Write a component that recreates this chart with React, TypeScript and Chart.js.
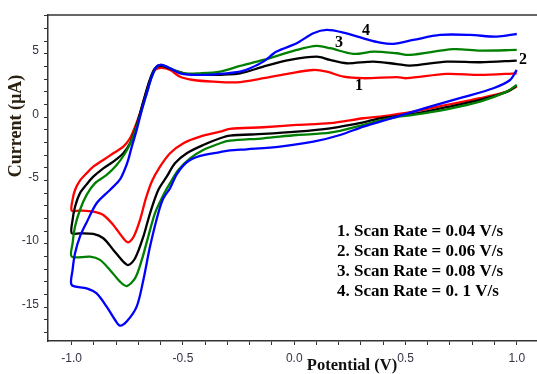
import React, { useEffect, useRef } from 'react';
import { Chart, registerables } from 'chart.js';

Chart.register(...registerables);

// ---- Data (Potential V, Current µA) ----
// Curve 1: 0.04 V/s (red)
const CURVE1_LOWER: [number, number][] = [
  [1.0, 2.42], [0.955, 2.02], [0.835, 1.5], [0.685, 0.97], [0.535, 0.44], [0.386, 0.05],
  [0.311, -0.08], [0.161, -0.47], [0.011, -0.61], [-0.139, -0.79], [-0.289, -0.92],
  [-0.333, -1.14], [-0.423, -1.53], [-0.498, -2.05], [-0.558, -2.84], [-0.603, -3.9],
  [-0.639, -5.03], [-0.666, -6.37], [-0.693, -8.1], [-0.72, -9.37], [-0.746, -9.87],
  [-0.768, -9.55], [-0.813, -8.5], [-0.858, -7.71], [-0.903, -7.45], [-0.963, -7.37], [-1.0, -7.37],
];
const CURVE1_UPPER: [number, number][] = [
  [-1.0, -7.37], [-0.996, -6.5], [-0.985, -5.74], [-0.963, -5.0], [-0.933, -4.42], [-0.903, -3.9],
  [-0.858, -3.37], [-0.813, -2.84], [-0.768, -2.32], [-0.738, -1.66], [-0.715, -0.74],
  [-0.693, 0.32], [-0.671, 1.63], [-0.648, 2.94], [-0.626, 3.73], [-0.596, 3.89], [-0.558, 3.73],
  [-0.513, 3.2], [-0.453, 2.94], [-0.364, 2.81], [-0.258, 2.76], [-0.139, 3.08], [-0.019, 3.47],
  [0.086, 3.73], [0.146, 3.6], [0.221, 3.2], [0.311, 3.08], [0.461, 3.16], [0.506, 3.08],
  [0.685, 3.42], [0.835, 3.34], [1.0, 3.47],
];
// Curve 2: 0.06 V/s (black)
const CURVE2_LOWER: [number, number][] = [
  [1.0, 2.5], [0.955, 2.0], [0.835, 1.37], [0.685, 0.79], [0.535, 0.26], [0.386, -0.08],
  [0.311, -0.4], [0.161, -0.87], [0.011, -1.14], [-0.139, -1.32], [-0.289, -1.45],
  [-0.333, -1.66], [-0.409, -2.19], [-0.483, -2.84], [-0.536, -3.63], [-0.573, -4.69],
  [-0.611, -5.74], [-0.648, -7.58], [-0.678, -9.42], [-0.715, -11.13], [-0.746, -11.66],
  [-0.768, -11.4], [-0.813, -10.47], [-0.858, -9.55], [-0.903, -9.21], [-0.963, -9.16], [-1.0, -9.16],
];
const CURVE2_UPPER: [number, number][] = [
  [-1.0, -9.16], [-0.996, -8.1], [-0.985, -7.06], [-0.963, -6.0], [-0.933, -5.3], [-0.903, -4.69],
  [-0.858, -4.03], [-0.813, -3.5], [-0.768, -2.84], [-0.738, -2.05], [-0.715, -1.0],
  [-0.693, 0.32], [-0.671, 1.7], [-0.648, 3.0], [-0.626, 3.87], [-0.596, 4.05], [-0.543, 3.73],
  [-0.483, 3.42], [-0.378, 3.34], [-0.243, 3.47], [-0.139, 4.0], [-0.019, 4.52], [0.101, 4.78],
  [0.161, 4.52], [0.236, 4.26], [0.356, 4.39], [0.461, 4.2], [0.52, 4.07], [0.685, 4.39],
  [0.835, 4.34], [1.0, 4.47],
];
// Curve 3: 0.08 V/s (green)
const CURVE3_LOWER: [number, number][] = [
  [1.0, 2.55], [0.955, 2.02], [0.835, 1.23], [0.685, 0.63], [0.535, 0.18], [0.461, 0.02],
  [0.386, -0.25], [0.311, -0.6], [0.161, -1.22], [0.011, -1.4], [-0.139, -1.66], [-0.289, -1.85],
  [-0.333, -2.05], [-0.409, -2.58], [-0.468, -3.24], [-0.521, -4.16], [-0.558, -5.2],
  [-0.592, -6.27], [-0.626, -7.58], [-0.656, -9.42], [-0.685, -11.26], [-0.715, -12.7],
  [-0.753, -13.32], [-0.783, -12.97], [-0.828, -12.05], [-0.873, -11.26], [-0.918, -11.0], [-1.0, -11.0],
];
const CURVE3_UPPER: [number, number][] = [
  [-1.0, -11.0], [-0.996, -9.95], [-0.985, -8.63], [-0.963, -7.32], [-0.933, -6.13], [-0.895, -5.2],
  [-0.843, -4.55], [-0.798, -3.76], [-0.76, -2.84], [-0.73, -1.79], [-0.708, -0.74], [-0.685, 0.58],
  [-0.663, 1.89], [-0.64, 3.2], [-0.618, 4.0], [-0.596, 4.13], [-0.558, 3.87], [-0.498, 3.47],
  [-0.423, 3.47], [-0.333, 3.6], [-0.243, 4.05], [-0.139, 4.52], [0.011, 5.31], [0.101, 5.63],
  [0.161, 5.45], [0.266, 5.0], [0.356, 5.18], [0.461, 5.05], [0.52, 4.92], [0.715, 5.37],
  [0.835, 5.26], [1.0, 5.31],
];
// Curve 4: 0.1 V/s (blue)
const CURVE4_LOWER: [number, number][] = [
  [1.0, 3.73], [0.97, 2.94], [0.895, 2.29], [0.76, 1.58], [0.61, 0.84], [0.461, 0.05],
  [0.386, -0.35], [0.311, -0.74], [0.206, -1.4], [0.086, -1.93], [-0.064, -2.32], [-0.213, -2.53],
  [-0.289, -2.62], [-0.333, -2.75], [-0.423, -3.05], [-0.483, -3.55], [-0.528, -4.5],
  [-0.558, -5.6], [-0.588, -6.4], [-0.611, -7.58], [-0.648, -10.21], [-0.678, -12.84],
  [-0.708, -14.95], [-0.753, -16.13], [-0.783, -16.45], [-0.805, -16.0], [-0.843, -14.95],
  [-0.888, -13.9], [-0.933, -13.5], [-1.0, -13.24],
];
const CURVE4_UPPER: [number, number][] = [
  [-1.0, -13.24], [-0.996, -12.05], [-0.985, -10.73], [-0.963, -9.42], [-0.933, -8.3],
  [-0.888, -6.79], [-0.828, -5.74], [-0.783, -4.9], [-0.76, -4.05], [-0.745, -3.3],
  [-0.73, -2.32], [-0.708, -1.0], [-0.685, 0.58], [-0.663, 1.89], [-0.64, 3.2], [-0.618, 4.0],
  [-0.596, 4.13], [-0.558, 3.87], [-0.513, 3.47], [-0.423, 3.34], [-0.333, 3.42], [-0.243, 3.6],
  [-0.198, 3.87], [-0.139, 4.39], [-0.079, 5.18], [0.011, 5.84], [0.086, 6.63], [0.146, 6.89],
  [0.221, 6.68], [0.311, 6.23], [0.386, 5.89], [0.445, 5.79], [0.535, 6.1], [0.655, 6.5],
  [0.79, 6.5], [0.91, 6.36], [1.0, 6.57],
];

const SERIES_NAMES = ['4', '3', '2', '1'];
const SERIES_COLORS = ['#0000ff', '#008000', '#000000', '#ff0000'];
const LEGEND_LINES = [
  '1. Scan Rate = 0.04 V/s',
  '2. Scan Rate = 0.06 V/s',
  '3. Scan Rate = 0.08 V/s',
  '4. Scan Rate = 0. 1 V/s',
];

const X_TICKS = [-1.0, -0.9, -0.8, -0.7, -0.6, -0.5, -0.4, -0.3, -0.2, -0.1, 0.0, 0.1, 0.2, 0.3, 0.4, 0.5, 0.6, 0.7, 0.8, 0.9, 1.0];
const X_MAJOR = [-1.0, -0.5, 0.0, 0.5, 1.0];
const X_MAJOR_LABELS = ['-1.0', '-0.5', '0.0', '0.5', '1.0'];
const Y_TICKS = [-17, -16, -15, -14, -13, -12, -11, -10, -9, -8, -7, -6, -5, -4, -3, -2, -1, 0, 1, 2, 3, 4, 5, 6, 7, 8];
const Y_MAJOR = [-15, -10, -5, 0, 5];
const Y_MAJOR_LABELS = ['-15', '-10', '-5', '0', '5'];

const X_MIN = -1.1065;
const X_MAX = 1.091;
const Y_MIN = -17.66;
const Y_MAX = 8.07;

const toPts = (lower: [number, number][], upper: [number, number][]) =>
  [...lower, ...upper.slice(1)].map(([x, y]) => ({ x, y }));

const CURVES = [
  toPts(CURVE4_LOWER, CURVE4_UPPER),
  toPts(CURVE3_LOWER, CURVE3_UPPER),
  toPts(CURVE2_LOWER, CURVE2_UPPER),
  toPts(CURVE1_LOWER, CURVE1_UPPER),
];

const labelFor = (v: number, majors: number[], labels: string[]) => {
  const i = majors.findIndex((m) => Math.abs(m - v) < 1e-6);
  return i >= 0 ? labels[i] : '';
};

const textPlugin = {
  id: 'cvText',
  afterDraw(chart: any) {
    const ctx = chart.ctx as CanvasRenderingContext2D;
    const a = chart.chartArea;
    ctx.save();
    // top border
    ctx.strokeStyle = '#333333';
    ctx.lineWidth = 1.5;
    ctx.beginPath();
    ctx.moveTo(a.left, a.top);
    ctx.lineTo(a.right, a.top);
    ctx.stroke();

    // y title
    ctx.save();
    ctx.translate(16, 126);
    ctx.rotate(-Math.PI / 2);
    ctx.font = 'bold 18px "Liberation Serif"';
    ctx.fillStyle = '#2a2010';
    ctx.textAlign = 'center';
    ctx.textBaseline = 'middle';
    ctx.fillText('Current (\u00b5A)', 0, 0);
    ctx.restore();

    // x title
    ctx.font = 'bold 16.5px "Liberation Serif"';
    ctx.fillStyle = '#111111';
    ctx.textAlign = 'center';
    ctx.textBaseline = 'middle';
    ctx.fillText('Potential (V)', 352, 366);

    // legend text
    ctx.font = 'bold 17px "Liberation Serif"';
    ctx.fillStyle = '#000000';
    ctx.textAlign = 'left';
    ctx.textBaseline = 'middle';
    const ys = [232, 252, 272, 292];
    LEGEND_LINES.forEach((t, i) => ctx.fillText(t, 337, ys[i]));

    // curve labels
    ctx.textAlign = 'center';
    ctx.font = 'bold 16px "Liberation Serif"';
    ctx.fillText('4', 366, 31);
    ctx.fillText('3', 339, 43);
    ctx.fillText('2', 523, 60);
    ctx.fillText('1', 359, 86);
    ctx.restore();
  },
};

export default function App() {
  const ref = useRef<HTMLCanvasElement | null>(null);
  useEffect(() => {
    document.body.style.margin = '0';
    if (!ref.current) return;
    const chart = new Chart(ref.current, {
      type: 'scatter',
      data: {
        datasets: CURVES.map((pts, i) => ({
          label: SERIES_NAMES[i],
          data: pts,
          showLine: true,
          borderColor: SERIES_COLORS[i],
          backgroundColor: SERIES_COLORS[i],
          borderWidth: 2.3,
          pointRadius: 0,
          tension: 0.3,
          fill: false,
        })),
      },
      options: {
        animation: false,
        responsive: false,
        layout: { padding: { top: 15, left: 0, right: 0, bottom: 0 } },
        plugins: { legend: { display: false }, tooltip: { enabled: false }, title: { display: false } },
        scales: {
          x: {
            type: 'linear',
            min: X_MIN,
            max: X_MAX,
            afterBuildTicks: (s: any) => { s.ticks = X_TICKS.map((v) => ({ value: v })); },
            afterFit: (s: any) => { s.height = 33; },
            ticks: {
              callback: (v: any) => labelFor(Number(v), X_MAJOR, X_MAJOR_LABELS),
              font: { family: '"Liberation Sans"', size: 12 },
              color: '#333344',
              padding: 6,
              maxRotation: 0,
              autoSkip: false,
            },
            grid: { display: true, drawOnChartArea: false, drawTicks: true, tickLength: 4, color: '#333333', lineWidth: 1 },
            border: { display: true, color: '#333333', width: 1.5 },
          },
          y: {
            type: 'linear',
            min: Y_MIN,
            max: Y_MAX,
            afterBuildTicks: (s: any) => { s.ticks = Y_TICKS.map((v) => ({ value: v })); },
            afterFit: (s: any) => { s.width = 48; },
            ticks: {
              callback: (v: any) => labelFor(Number(v), Y_MAJOR, Y_MAJOR_LABELS),
              font: { family: '"Liberation Sans"', size: 12 },
              color: '#333344',
              padding: 5,
              labelOffset: -3,
              autoSkip: false,
            },
            grid: { display: true, drawOnChartArea: false, drawTicks: true, tickLength: 4, color: '#333333', lineWidth: 1 },
            border: { display: true, color: '#333333', width: 1.5 },
          },
        },
      },
      plugins: [textPlugin],
    });
    return () => chart.destroy();
  }, []);
  return <canvas ref={ref} width={537} height={374} style={{ display: 'block' }} />;
}
